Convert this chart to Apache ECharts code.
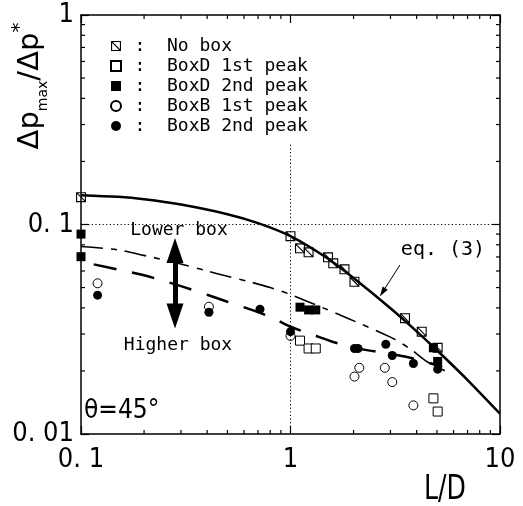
<!DOCTYPE html>
<html><head><meta charset="utf-8">
<script src="https://cdn.jsdelivr.net/npm/echarts@6/dist/echarts.min.js"></script>
<style>html,body{margin:0;padding:0;background:#fff}#c{width:523px;height:506px}</style>
</head><body><div id="c"></div>
<script>
// ---- data ----
const xTickLabels = ['0. 1', '1', '10'];
const yTickLabels = ['0. 01', '0. 1', '1'];
const noBox = [[0.1,0.135],[1.0,0.088],[1.11,0.077],[1.22,0.0737],[1.51,0.0697],[1.6,0.0653],[1.81,0.0611],[2.02,0.0533],[3.52,0.0357],[4.23,0.0308],[5.04,0.0258]];
const boxD1 = [[1.11,0.0279],[1.22,0.0256],[1.32,0.0256],[4.81,0.0148],[5.04,0.0128]];
const boxD2 = [[0.1,0.090],[0.1,0.0702],[1.11,0.0403],[1.22,0.0391],[1.32,0.0391],[4.81,0.0258],[5.04,0.0222]];
const boxB1 = [[0.12,0.0524],[0.408,0.0405],[1.0,0.0294],[2.02,0.0188],[2.13,0.0207],[2.82,0.0207],[3.06,0.0177],[3.86,0.0137]];
const boxB2 = [[0.12,0.046],[0.408,0.0381],[0.715,0.0394],[1.0,0.0308],[2.02,0.0256],[2.1,0.0256],[2.85,0.0268],[3.06,0.0237],[3.86,0.0217],[5.04,0.0204]];
const eq3Curve = [[0.1,0.138],[0.15,0.1355],[0.2,0.132],[0.3,0.1245],[0.5,0.112],[0.7,0.1015],[1,0.088],[1.5,0.069],[2,0.0555],[3,0.0398],[4,0.0309],[5,0.0251],[7,0.0181],[10,0.0125]];
const lowerBoxCurve = [[0.1,0.0785],[0.15,0.0757],[0.2,0.0712],[0.3,0.0648],[0.4,0.0600],[0.5,0.0566],[0.65,0.0530],[0.8,0.0500],[1,0.0463],[1.43,0.040],[1.86,0.0358],[3,0.0290],[3.72,0.0255],[4.53,0.0220],[5.8,0.0195]];
const higherBoxCurve = [[0.115,0.0645],[0.15,0.061],[0.2,0.0572],[0.3,0.0508],[0.4,0.0462],[0.5,0.0428],[0.7,0.0382],[0.85,0.0352],[1,0.0325],[1.3,0.0296],[1.6,0.0275],[2,0.0258],[2.4,0.0250],[3,0.0241],[3.6,0.0233],[4.7,0.0217],[5.3,0.0208]];
const xMinor = [0.2,0.3,0.4,0.5,0.6,0.7,0.8,0.9,2,3,4,5,6,7,8,9];
const yMinor = [0.02,0.03,0.04,0.05,0.06,0.07,0.08,0.09,0.2,0.3,0.4,0.5,0.6,0.7,0.8,0.9];
const legendNames = ['No box','BoxD 1st peak','BoxD 2nd peak','BoxB 1st peak','BoxB 2nd peak'];

const X_MIN = 0.1, X_MAX = 10, Y_MIN = 0.01, Y_MAX = 1;
const cond = "'DejaVu Sans Condensed', 'DejaVu Sans', sans-serif";
const mono = "'DejaVu Sans Mono', monospace";
const hatch = 'path://M0,0H18V18H0Z M2,2V16H16V2Z M2,3.4L14.6,16H16V14.6L3.4,2H2Z';

const chart = echarts.init(document.getElementById('c'), null, {renderer: 'canvas'});

function tickSeries(data, isX) {
  return {
    type: 'custom', coordinateSystem: 'cartesian2d', silent: true, clip: false, z: 6,
    data: data.map(v => isX ? [v, 0.1] : [1, v]),
    renderItem: (params, api) => {
      const st = {stroke: '#000', lineWidth: 1.2};
      if (isX) {
        const v = api.value(0);
        const b = api.coord([v, Y_MIN]), t = api.coord([v, Y_MAX]);
        return {type: 'group', children: [
          {type: 'line', shape: {x1: b[0], y1: b[1], x2: b[0], y2: b[1] - 4}, style: st},
          {type: 'line', shape: {x1: t[0], y1: t[1], x2: t[0], y2: t[1] + 4}, style: st}
        ]};
      } else {
        const v = api.value(1);
        const l = api.coord([X_MIN, v]), r = api.coord([X_MAX, v]);
        return {type: 'group', children: [
          {type: 'line', shape: {x1: l[0], y1: l[1], x2: l[0] + 4, y2: l[1]}, style: st},
          {type: 'line', shape: {x1: r[0], y1: r[1], x2: r[0] - 4, y2: r[1]}, style: st}
        ]};
      }
    }
  };
}

const axisCommon = {
  type: 'log', logBase: 10,
  axisLine: {show: true, onZero: false, lineStyle: {color: '#000', width: 1.5}},
  axisTick: {show: true, inside: true, length: 8, lineStyle: {color: '#000', width: 1.2}},
  splitLine: {show: false}, minorTick: {show: false}, minorSplitLine: {show: false}
};

const option = {
  animation: false,
  backgroundColor: '#fff',
  grid: {left: 81, right: 23, top: 15, bottom: 72, containLabel: false},
  xAxis: [
    Object.assign({}, axisCommon, {min: X_MIN, max: X_MAX, position: 'bottom',
      axisLabel: {show: true, margin: 12, color: '#000', fontFamily: cond, fontSize: 27,
        showMinLabel: true, showMaxLabel: true,
        formatter: v => xTickLabels[Math.round(Math.log10(v)) + 1]}}),
    Object.assign({}, axisCommon, {min: X_MIN, max: X_MAX, position: 'top', axisLabel: {show: false}})
  ],
  yAxis: [
    Object.assign({}, axisCommon, {min: Y_MIN, max: Y_MAX, position: 'left',
      axisLabel: {show: true, margin: 7, color: '#000', fontFamily: cond, fontSize: 27,
        showMinLabel: true, showMaxLabel: true,
        formatter: v => yTickLabels[Math.round(Math.log10(v)) + 2]}}),
    Object.assign({}, axisCommon, {min: Y_MIN, max: Y_MAX, position: 'right', axisLabel: {show: false}})
  ],
  legend: {
    data: legendNames, orient: 'vertical', left: 110, top: 36, padding: 0,
    itemWidth: 10, itemHeight: 10, itemGap: 0, selectedMode: false,
    formatter: name => '{c|:}{t|' + name + '}',
    textStyle: {color: '#000', fontFamily: mono, fontSize: 18, lineHeight: 20,
      rich: {
        c: {width: 28, align: 'right', fontFamily: mono, fontSize: 18, lineHeight: 20, color: '#000'},
        t: {padding: [0, 0, 0, 13], fontFamily: mono, fontSize: 18, lineHeight: 20, color: '#000'}
      }}
  },
  graphic: [
    {type: 'text', x: 30, y: 86, rotation: Math.PI / 2, silent: true,
      style: {text: '{m|Δp}{s|max}{m|/Δp}{u|*}', align: 'center', verticalAlign: 'middle', fill: '#000',
        rich: {
          m: {fontFamily: "'DejaVu Sans', sans-serif", fontSize: 29, lineHeight: 40, fill: '#000'},
          s: {fontFamily: "'DejaVu Sans', sans-serif", fontSize: 14, lineHeight: 14, verticalAlign: 'bottom', fill: '#000'},
          u: {fontFamily: "'DejaVu Sans', sans-serif", fontSize: 20, lineHeight: 28, verticalAlign: 'top', fill: '#000'}
        }}},
    {type: 'text', x: 445, y: 490, scaleY: 1.2, silent: true,
      style: {text: 'L/D', align: 'center', verticalAlign: 'middle', fill: '#000', fontFamily: cond, fontSize: 28}},
    {type: 'text', x: 84, y: 411, silent: true,
      style: {text: 'θ=45°', align: 'left', verticalAlign: 'middle', fill: '#000', fontFamily: cond, fontSize: 26}},
    {type: 'text', x: 179, y: 230, silent: true,
      style: {text: 'Lower box', align: 'center', verticalAlign: 'middle', fill: '#000', fontFamily: mono, fontSize: 18}},
    {type: 'text', x: 178, y: 345, silent: true,
      style: {text: 'Higher box', align: 'center', verticalAlign: 'middle', fill: '#000', fontFamily: mono, fontSize: 18}},
    {type: 'text', x: 443, y: 250, silent: true,
      style: {text: 'eq. (3)', align: 'center', verticalAlign: 'middle', fill: '#000', fontFamily: mono, fontSize: 20}}
  ],
  series: [
    {name: 'eq. (3)', type: 'line', data: eq3Curve, showSymbol: false, symbol: 'none', smooth: 0.3,
      lineStyle: {color: '#000', width: 2.5}, z: 2, silent: true,
      markLine: {silent: true, animation: false, label: {show: false}, symbol: 'none',
        data: [
          [{coord: [1, Y_MIN], lineStyle: {color: '#000', width: 1, type: [1.2, 2.4]}}, {coord: [1, 0.245]}],
          [{coord: [X_MIN, 0.1], lineStyle: {color: '#000', width: 1, type: [1.2, 2.4]}}, {coord: [X_MAX, 0.1]}],
          [{coord: [3.33, 0.0641], symbol: 'none', lineStyle: {color: '#000', width: 1, type: 'solid'}},
           {coord: [2.75, 0.0475], symbol: 'triangle', symbolSize: [6, 10]}]
        ]}},
    {name: 'Lower box', type: 'line', data: lowerBoxCurve, showSymbol: false, symbol: 'none', smooth: 0.3,
      lineStyle: {color: '#000', width: 1.6, type: [22, 8, 6, 8]}, z: 2, silent: true,
      markLine: {silent: true, animation: false, label: {show: false},
        data: [
          [{coord: [0.281, 0.0751], symbol: 'triangle', symbolSize: [17, 25], lineStyle: {color: '#000', width: 5, type: 'solid'}},
           {coord: [0.281, 0.0366], symbol: 'triangle', symbolSize: [17, 25]}]
        ]}},
    {name: 'Higher box', type: 'line', data: higherBoxCurve, showSymbol: false, symbol: 'none', smooth: 0.3,
      lineStyle: {color: '#000', width: 2.5, type: [23, 16]}, z: 2, silent: true},
    {name: 'No box', type: 'scatter', data: noBox, symbol: hatch, symbolSize: 10,
      itemStyle: {color: '#000', borderWidth: 0, opacity: 1}, z: 4},
    {name: 'BoxD 1st peak', type: 'scatter', data: boxD1, symbol: 'rect', symbolSize: 9,
      itemStyle: {color: '#fff', borderColor: '#000', borderWidth: 1, opacity: 1}, z: 4},
    {name: 'BoxD 2nd peak', type: 'scatter', data: boxD2, symbol: 'rect', symbolSize: 9,
      itemStyle: {color: '#000', opacity: 1}, z: 4},
    {name: 'BoxB 1st peak', type: 'scatter', data: boxB1, symbol: 'circle', symbolSize: 9,
      itemStyle: {color: '#fff', borderColor: '#000', borderWidth: 1, opacity: 1}, z: 4},
    {name: 'BoxB 2nd peak', type: 'scatter', data: boxB2, symbol: 'circle', symbolSize: 9,
      itemStyle: {color: '#000', opacity: 1}, z: 4},
    tickSeries(xMinor, true),
    tickSeries(yMinor, false)
  ]
};
chart.setOption(option);
</script>
</body></html>
